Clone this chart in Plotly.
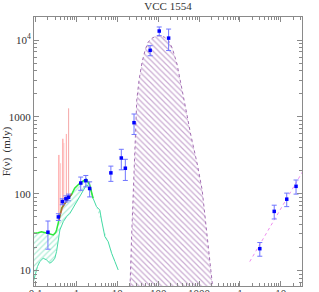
import plotly.graph_objects as go

# ---------------- data ----------------
# broadband photometry (wavelength in micron, flux in mJy)
phot_wl = [0.2, 0.36, 0.45, 0.55, 0.64, 1.27, 1.69, 2.1, 6.95, 12.5, 15.7,
           25.6, 63.5, 106, 180, 30700, 69200, 140000, 236600]
phot_f = [31.6, 50, 79, 86, 90, 138, 148, 117, 187, 292, 215,
          841, 7350, 13100, 10600, 19.3, 59, 85, 125]
phot_err = [12.6, 5, 7, 8, 9, 27, 25, 26, 42, 87, 66,
            250, 1100, 1700, 3300, 3.9, 12, 17, 26]

# stellar model envelope (upper and lower)
star_up_wl = [0.0883, 0.0951, 0.1153, 0.139, 0.1845, 0.2225, 0.270, 0.3076,
              0.3252, 0.358, 0.3925, 0.4317, 0.521, 0.631, 0.762, 0.903,
              1.2, 1.592, 1.754, 2.113, 2.547]
star_up_f = [31.2, 30.6, 31.2, 32.1, 30.9, 30.0, 29.1, 31.2,
             33.8, 41.7, 53.0, 65.3, 75.2, 87.4, 98.0, 118,
             137, 151, 154.6, 130, 87.4]
star_lo_wl = [0.0868, 0.0989, 0.1107, 0.1262, 0.153, 0.1845, 0.2225, 0.2547,
              0.295, 0.3252, 0.358, 0.3925, 0.4753, 0.574, 0.692, 0.995,
              1.321, 1.754, 2.113, 2.547, 3.09, 3.725, 4.10, 4.49, 4.95,
              5.97, 7.24, 8.73, 10.5]
star_lo_f = [6.92, 9.33, 11.3, 13.1, 14.5, 13.8, 12.5, 13.1,
             14.5, 17.7, 25.1, 33.8, 43.4, 50.4, 55.7, 78.9,
             101.6, 130, 123.6, 87.4, 68, 61.5, 45.6, 35.6, 27.7,
             23.8, 16.8, 13.1, 10.2]

# optical spectrum spikes
spec_wl = [0.371, 0.408, 0.464, 0.492, 0.564, 0.642]
spec_lo = [45, 55, 70, 75, 80, 90]
spec_hi = [320, 250, 520, 458, 600, 1294]
spec_col = ['rgba(255,60,60,0.6)', 'rgba(255,130,130,0.45)', 'rgba(255,60,60,0.6)',
            'rgba(250,170,170,0.6)', 'rgba(255,80,80,0.5)', 'rgba(240,130,130,0.7)']
spec_cont_wl = [0.37, 0.45, 0.55, 0.65, 0.76]
spec_cont_f = [46, 66, 78, 88, 100]

# dust emission envelope
dust_wl = [20.4, 20.4, 22.2, 24.2, 26.1, 27.9, 29.9, 34.0, 40.4, 47.9, 56.7,
           71.2, 89.3, 112, 140.6, 176, 221, 289, 348, 425, 518, 614, 741,
           914, 1191, 1438, 1754, 2102, 2130, 2130]
dust_f = [1, 6, 25, 83, 275, 618, 1660, 3020, 5180, 7410, 9420,
          10600, 11270, 11380, 10940, 10000, 7870, 4870, 3020, 1660, 998, 618, 410,
          237, 112, 45.6, 18.6, 6.9, 5, 1]

# radio power-law fit
radio_wl = [17400, 352000]
radio_f = [13.1, 199]

# axis ticks
x_tickvals = [0.1, 1, 10, 100, 1000, 1e4, 1e5]
x_ticktext = ['0.1', '1', '10', '100', '1000', '1', '10']
y_tickvals = [10, 100, 1000, 1e4]
y_ticktext = ['10', '100', '1000', '10<sup>4</sup>']

# ---------------- figure ----------------
fig = go.Figure()

# dust hatched region
fig.add_trace(go.Scatter(
    x=dust_wl, y=dust_f, mode='lines', fill='toself',
    line=dict(color='#a46fb4', width=1, dash='dot'),
    fillcolor='rgba(0,0,0,0)',
    fillpattern=dict(shape='\\', fgcolor='#9558a6', bgcolor='rgba(0,0,0,0)',
                     size=4, solidity=0.3),
    hoverinfo='skip'))

# stellar envelope hatch
poly_x = star_up_wl + star_lo_wl[::-1]
poly_y = star_up_f + star_lo_f[::-1]
fig.add_trace(go.Scatter(
    x=poly_x, y=poly_y, mode='lines', fill='toself',
    line=dict(width=0, color='rgba(0,0,0,0)'),
    fillcolor='rgba(0,0,0,0)',
    fillpattern=dict(shape='/', fgcolor='#5fdcae', bgcolor='rgba(0,0,0,0)',
                     size=4, solidity=0.3),
    hoverinfo='skip'))
fig.add_trace(go.Scatter(x=star_lo_wl, y=star_lo_f, mode='lines',
                         line=dict(color='#45dba5', width=1)))
fig.add_trace(go.Scatter(x=star_up_wl, y=star_up_f, mode='lines',
                         line=dict(color='#2ee83a', width=1.5)))

# spectrum spikes
for w, lo, hi, c in zip(spec_wl, spec_lo, spec_hi, spec_col):
    fig.add_trace(go.Scatter(x=[w, w], y=[lo, hi], mode='lines',
                             line=dict(color=c, width=1)))
fig.add_trace(go.Scatter(x=spec_cont_wl, y=spec_cont_f, mode='lines',
                         line=dict(color='rgba(220,60,30,0.7)', width=1.5)))

# radio fit
fig.add_trace(go.Scatter(x=radio_wl, y=radio_f, mode='lines',
                         line=dict(color='#f08cf0', width=1, dash='dot')))

# photometry
fig.add_trace(go.Scatter(
    x=phot_wl, y=phot_f, mode='markers',
    marker=dict(symbol='square', size=3.5, color='#0000ff'),
    error_y=dict(type='data', array=phot_err, color='#6f75ff',
                 thickness=1, width=2.5)))

minor_x = [m * 10 ** d for d in range(-2, 6) for m in range(2, 10)]
minor_y = [m * 10 ** d for d in range(0, 5) for m in range(2, 10)]

axis_common = dict(
    type='log', showgrid=False, zeroline=False, showline=True,
    linecolor='#8a8a8a', linewidth=1, mirror='ticks',
    ticks='inside', ticklen=5, tickcolor='#8a8a8a', tickwidth=1,
    tickfont=dict(family='Liberation Serif', size=11, color='#333333'),
    automargin=False)

fig.update_layout(
    width=319, height=292,
    margin=dict(l=34, r=17, t=17, b=6),
    paper_bgcolor='white', plot_bgcolor='white',
    showlegend=False,
    title=dict(text='VCC 1554', x=0.5, xref='paper', xanchor='center',
               y=1 - 6 / 292, yref='container', yanchor='middle',
               font=dict(family='Liberation Serif', size=11, color='#333333')),
    xaxis=dict(axis_common, range=[-1.04, 5.52], tickmode='array',
               tickvals=x_tickvals, ticktext=x_ticktext,
               ticklabelstandoff=-3,
               minor=dict(tickmode='array', tickvals=minor_x, ticks='inside',
                          ticklen=3, tickcolor='#8a8a8a', showgrid=False)),
    yaxis=dict(axis_common, range=[0.80, 4.30], tickmode='array',
               tickvals=y_tickvals, ticktext=y_ticktext,
               minor=dict(tickmode='array', tickvals=minor_y, ticks='inside',
                          ticklen=3, tickcolor='#8a8a8a', showgrid=False),
               title=dict(text='F(ν)  (mJy)', standoff=6,
                          font=dict(family='Liberation Serif', size=11,
                                    color='#333333'))),
)

fig.write_html('out.html',
               config={'displayModeBar': False},
               post_script="document.body.style.margin='0';"
                           "document.body.style.overflow='hidden';")
